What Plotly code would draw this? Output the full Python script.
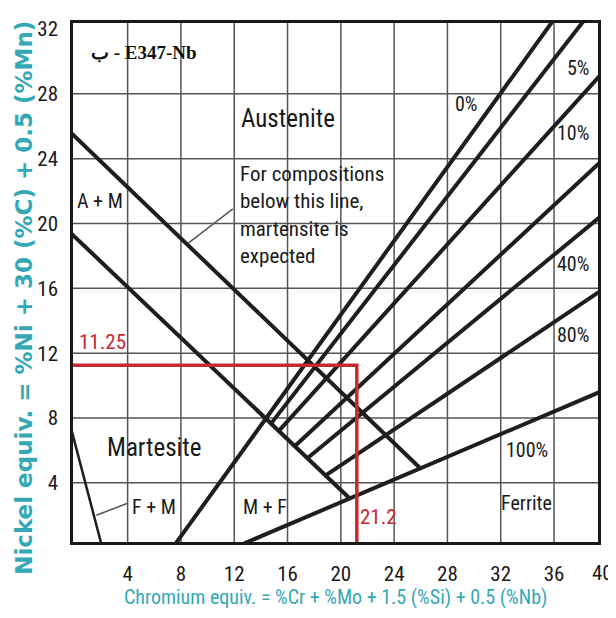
import plotly.graph_objects as go

# ---------------- data ----------------
x_ticks = [4, 8, 12, 16, 20, 24, 28, 32, 36]
y_ticks = [4, 8, 12, 16, 20, 24, 28, 32]
y_grid = [4, 8, 12, 16, 20, 24, 28]

# boundary lines (Cr equiv., Ni equiv.)
upper_boundary_x = [-0.2, 25.9]
upper_boundary_y = [25.55, 4.95]
lower_boundary_x = [-0.2, 20.65]
lower_boundary_y = [19.36, 3.05]
fm_boundary_x = [-0.2, 2.1]
fm_boundary_y = [7.22, 0.0]

# iso-ferrite lines
ferrite_names = ["0%", "5%", "10%", "20%", "40%", "80%", "100%"]
ferrite_x = [[7.38, 36.0], [14.8, 38.32], [15.4, 39.5], [16.62, 39.5],
             [17.58, 39.5], [18.95, 39.5], [12.0, 39.5]]
ferrite_y = [[0.0, 32.6], [7.7, 32.6], [7.25, 29.18], [6.32, 23.81],
             [5.58, 20.44], [4.51, 15.84], [0.0, 9.63]]

# E347-Nb point
cr_point = 21.2
ni_point = 11.25

# leader lines
leader1_x = [8.53, 11.9]
leader1_y = [18.78, 20.9]
leader2_x = [1.65, 4.0]
leader2_y = [2.0, 2.74]

# labels
region_labels = ["Austenite", "A + M", "Martesite", "F + M", "M + F", "Ferrite"]
region_x = [16.0, 1.9, 5.96, 5.96, 14.3, 33.9]
region_y = [26.5, 21.4, 6.16, 2.5, 2.5, 2.74]
region_size = [25, 20, 25, 20, 20, 20]

pct_labels = ["0%", "5%", "10%", "40%", "80%", "100%"]
pct_x = [29.4, 37.8, 37.4, 37.4, 37.4, 34.0]
pct_y = [27.4, 29.6, 25.6, 17.5, 13.1, 6.0]

note_text = "For compositions<br>below this line,<br>martensite is<br>expected"

# ---------------- figure ----------------
NARROW = "Liberation Sans Narrow, Arial Narrow, Roboto Condensed, Liberation Sans, sans-serif"
LINE = "#1e1e1e"
RED = "#c42a33"
TEAL = "#35a8b6"

XR = [-0.1, 39.3]
YR = [0.35, 32.37]
PW, PH = 525, 525  # plot area size in px

fig = go.Figure()

lw = 4
fig.add_trace(go.Scatter(x=upper_boundary_x, y=upper_boundary_y, mode="lines",
                         line=dict(color=LINE, width=lw), hoverinfo="skip"))
fig.add_trace(go.Scatter(x=lower_boundary_x, y=lower_boundary_y, mode="lines",
                         line=dict(color=LINE, width=lw), hoverinfo="skip"))
fig.add_trace(go.Scatter(x=fm_boundary_x, y=fm_boundary_y, mode="lines",
                         line=dict(color=LINE, width=2.5), hoverinfo="skip"))
for name, xs, ys in zip(ferrite_names, ferrite_x, ferrite_y):
    fig.add_trace(go.Scatter(x=xs, y=ys, mode="lines", name=name,
                             line=dict(color=LINE, width=lw), hoverinfo="skip"))

for xs, ys in [(leader1_x, leader1_y), (leader2_x, leader2_y)]:
    fig.add_trace(go.Scatter(x=xs, y=ys, mode="lines",
                             line=dict(color="#555555", width=1.5), hoverinfo="skip"))

# red construction lines
fig.add_trace(go.Scatter(x=[XR[0] - 0.2, cr_point, cr_point], y=[ni_point, ni_point, 0],
                         mode="lines", line=dict(color=RED, width=3.5), hoverinfo="skip"))

# gridlines as shapes (below traces)
for gx in x_ticks:
    fig.add_shape(type="line", xref="x", yref="paper", x0=gx, x1=gx, y0=0, y1=1,
                  line=dict(color="#555555", width=1.5), layer="below")
for gy in y_grid:
    fig.add_shape(type="line", xref="paper", yref="y", x0=0, x1=1, y0=gy, y1=gy,
                  line=dict(color="#555555", width=1.5), layer="below")

annotations = []
for t, x, y, s in zip(region_labels, region_x, region_y, region_size):
    annotations.append(dict(x=x, y=y, xref="x", yref="y", text=t, showarrow=False,
                            font=dict(family=NARROW, size=s, color="#1a1a1a")))
for t, x, y in zip(pct_labels, pct_x, pct_y):
    annotations.append(dict(x=x, y=y, xref="x", yref="y", text=t, showarrow=False,
                            font=dict(family=NARROW, size=20, color="#1a1a1a")))
annotations.append(dict(x=12.3, y=20.5, xref="x", yref="y", text=note_text, showarrow=False,
                        xanchor="left", yanchor="middle", align="left",
                        font=dict(family=NARROW, size=21, color="#1a1a1a")))
annotations.append(dict(x=5.2, y=30.55, xref="x", yref="y", text="ب - E347-Nb", showarrow=False,
                        font=dict(family="Liberation Serif, DejaVu Serif, serif", size=19,
                                  color="#111111", weight="bold")))
annotations.append(dict(x=2.1, y=12.7, xref="x", yref="y", text=str(ni_point), showarrow=False,
                        font=dict(family=NARROW, size=21, color=RED)))
annotations.append(dict(x=22.85, y=1.9, xref="x", yref="y", text=str(cr_point), showarrow=False,
                        font=dict(family=NARROW, size=21, color=RED)))
# extra "40" tick label at the right end of the axis
annotations.append(dict(x=(40 - XR[0]) / (XR[1] - XR[0]), y=(542 - 573) / PH,
                        xref="paper", yref="paper", xanchor="center", yanchor="middle",
                        text="40", showarrow=False, xshift=-5,
                        font=dict(family=NARROW, size=21, color="#1a1a1a")))
# axis titles
annotations.append(dict(x=(335 - 73) / PW, y=(542 - 598) / PH, xref="paper", yref="paper",
                        xanchor="center", yanchor="middle",
                        text="Chromium equiv. = %Cr + %Mo + 1.5 (%Si) + 0.5 (%Nb)",
                        showarrow=False,
                        font=dict(family=NARROW, size=20, color=TEAL)))
annotations.append(dict(x=(24 - 73) / PW, y=(542 - 295) / PH, xref="paper", yref="paper",
                        xanchor="center", yanchor="middle",
                        text="Nickel equiv. = %Ni + 30 (%C) + 0.5 (%Mn)", textangle=-90,
                        showarrow=False,
                        font=dict(family="DejaVu Sans, sans-serif", size=23, color=TEAL,
                                  weight="bold")))

# the page body adds an 8 px margin, so margins are offset by 8 px
fig.update_layout(
    width=608, height=600,
    margin=dict(l=65, r=18, t=9, b=66),
    paper_bgcolor="white", plot_bgcolor="white",
    showlegend=False,
    annotations=annotations,
    xaxis=dict(range=XR, tickvals=x_ticks, showgrid=False, zeroline=False,
               showline=True, mirror=True, linecolor="#1a1a1a", linewidth=2.5,
               ticks="", ticklabelstandoff=11,
               tickfont=dict(family=NARROW, size=21, color="#1a1a1a")),
    yaxis=dict(range=YR, tickvals=y_ticks, showgrid=False, zeroline=False,
               showline=True, mirror=True, linecolor="#1a1a1a", linewidth=2.5,
               ticks="", ticklabelstandoff=8,
               tickfont=dict(family=NARROW, size=21, color="#1a1a1a")),
)

fig.write_html("out.html")
